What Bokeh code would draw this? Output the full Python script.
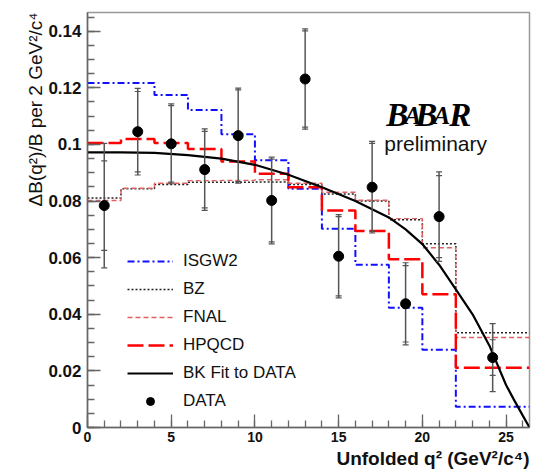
import math
from bokeh.plotting import figure
from bokeh.models import (FixedTicker, CustomJSTickFormatter, Legend, LegendItem,
                          Label, Title, ColumnDataSource)
from bokeh.embed import file_html
from bokeh.resources import INLINE

# ---------------- data ----------------
bin_edges = [0, 2, 4, 6, 8, 10, 12, 14, 16, 18, 20, 22, 26.4]
isgw2 = [0.1217, 0.1217, 0.1175, 0.1122, 0.1036, 0.0944, 0.0843, 0.0702, 0.0575, 0.0423, 0.0275, 0.0073]
bz    = [0.0811, 0.0843, 0.0858, 0.0866, 0.0866, 0.0867, 0.0858, 0.0825, 0.0800, 0.0734, 0.0649, 0.0335]
fnal  = [0.0802, 0.0845, 0.0863, 0.0872, 0.0873, 0.0875, 0.0863, 0.0831, 0.0803, 0.0738, 0.0635, 0.0318]
hpqcd = [0.1005, 0.1019, 0.1005, 0.0984, 0.0940, 0.0896, 0.0849, 0.0767, 0.0694, 0.0594, 0.0471, 0.0211]

fit_q2  = [0, 2, 4, 6, 8, 10, 12, 14, 16, 18, 19, 20, 21, 22, 23, 24, 25, 25.5, 26, 26.4]
fit_val = [0.0972, 0.0972, 0.0970, 0.0962, 0.0950, 0.0928, 0.0893, 0.0849, 0.0800, 0.0742,
           0.0700, 0.0648, 0.0575, 0.0488, 0.0400, 0.0290, 0.0150, 0.0095, 0.0042, 0.0]

data_q2   = [1, 3, 5, 7, 9, 11, 13, 15, 17, 19, 21, 24.2]
data_val  = [0.0784, 0.1045, 0.1002, 0.0911, 0.1031, 0.0802, 0.1231, 0.0605, 0.0849, 0.0437, 0.0745, 0.0247]
err_total = [0.0220, 0.0153, 0.0141, 0.0144, 0.0168, 0.0153, 0.0177, 0.0147, 0.0162, 0.0145, 0.0158, 0.0120]
err_stat  = [0.0158, 0.0142, 0.0135, 0.0135, 0.0162, 0.0146, 0.0170, 0.0140, 0.0155, 0.0135, 0.0145, 0.0063]

y_ticks = [0, 0.02, 0.04, 0.06, 0.08, 0.10, 0.12, 0.14]
x_ticks = [0, 5, 10, 15, 20, 25]

labels = ["ISGW2", "BZ", "FNAL", "HPQCD", "BK Fit to DATA", "DATA"]
x_title = "Unfolded q\u00b2 (GeV\u00b2/c\u2074)"
y_title = "\u0394B(q\u00b2)/B per 2 GeV\u00b2/c\u2074"

# ---------------- figure ----------------
p = figure(width=533, height=474, x_range=(0, 26.4), y_range=(0, 0.1466),
           output_backend="svg", toolbar_location=None,
           min_border_left=87, min_border_right=4, min_border_top=12, min_border_bottom=47)
p.grid.visible = False
p.outline_line_color = "#999999"
p.outline_line_width = 1.5
p.background_fill_color = "white"

for ax in (p.xaxis[0], p.yaxis[0]):
    ax.axis_line_color = "#666666"
    ax.axis_line_width = 1.5
    ax.major_tick_line_color = "#666666"
    ax.minor_tick_line_color = "#666666"
    ax.major_tick_line_width = 1.3
    ax.minor_tick_line_width = 1.3
    ax.major_tick_in = 13
    ax.major_tick_out = 0
    ax.minor_tick_in = 7
    ax.minor_tick_out = 0
    ax.major_label_text_font = "Liberation Sans"
    ax.major_label_text_font_style = "bold"
    ax.major_label_text_color = "#111111"

p.yaxis.ticker = FixedTicker(ticks=y_ticks,
                             minor_ticks=[i * 0.005 for i in range(30)])
p.xaxis.ticker = FixedTicker(ticks=x_ticks, minor_ticks=list(range(27)))
p.yaxis.formatter = CustomJSTickFormatter(code="return Number(tick.toFixed(3)).toString();")
p.yaxis.major_label_text_font_size = "17px"
p.xaxis.major_label_text_font_size = "14px"
p.yaxis.major_label_standoff = 6
p.xaxis.major_label_standoff = 4

def step_src(vals):
    return ColumnDataSource(dict(x=bin_edges, y=list(vals) + [vals[-1]]))

r_isgw = p.step(x="x", y="y", source=step_src(isgw2), mode="after",
                line_color="#1010ff", line_width=2, line_dash="7 3 2 3")
r_bz = p.step(x="x", y="y", source=step_src(bz), mode="after",
              line_color="#222222", line_width=1.5, line_dash="2 2")
r_fnal = p.step(x="x", y="y", source=step_src(fnal), mode="after",
                line_color="#e06060", line_width=1.4, line_dash="5 3")
r_hpqcd = p.step(x="x", y="y", source=step_src(hpqcd), mode="after",
                 line_color="#ff0000", line_width=2.5, line_dash="16 5")
r_fit = p.line(fit_q2, fit_val, line_color="black", line_width=2.2)

# error bars
hi_t = [v + e for v, e in zip(data_val, err_total)]
lo_t = [v - e for v, e in zip(data_val, err_total)]
hi_s = [v + e for v, e in zip(data_val, err_stat)]
lo_s = [v - e for v, e in zip(data_val, err_stat)]
p.segment(x0=data_q2, y0=lo_t, x1=data_q2, y1=hi_t, line_color="#555555", line_width=1.5)
p.scatter(data_q2 + data_q2, hi_t + lo_t, marker="dash", size=6,
          line_color="#555555", line_width=1.2)
p.scatter(data_q2 + data_q2, hi_s + lo_s, marker="dash", size=6,
          line_color="#555555", line_width=1.2)
r_data = p.scatter(data_q2, data_val, size=10, color="black")

legend = Legend(items=[LegendItem(label=labels[0], renderers=[r_isgw]),
                       LegendItem(label=labels[1], renderers=[r_bz]),
                       LegendItem(label=labels[2], renderers=[r_fnal]),
                       LegendItem(label=labels[3], renderers=[r_hpqcd]),
                       LegendItem(label=labels[4], renderers=[r_fit]),
                       LegendItem(label=labels[5], renderers=[r_data])],
                location=(40, 16), orientation="vertical",
                glyph_width=46, glyph_height=20, label_height=20, spacing=8,
                label_standoff=10, padding=0, margin=0,
                border_line_color=None, background_fill_alpha=0,
                label_text_font="Liberation Sans", label_text_font_size="17px",
                label_text_color="#111111")
p.add_layout(legend, "center")

# axis titles
p.add_layout(Title(text=y_title, align="right", text_font="Liberation Sans",
                   text_font_style="normal", text_font_size="19px",
                   text_color="#111111", standoff=0, offset=0), "left")
p.add_layout(Title(text=x_title, align="right", text_font="Liberation Sans",
                   text_font_style="bold", text_font_size="19px",
                   text_color="#111111", standoff=2, offset=0), "below")

# BaBar logo
logo = [("B", 17.85, 33), ("A", 18.93, 25), ("B", 19.58, 33), ("A", 20.66, 25), ("R", 21.61, 33)]
for ch, lx, fs in logo:
    p.add_layout(Label(x=lx, y=0.1103, text=ch, text_font="Liberation Serif",
                       text_font_style="bold italic", text_font_size=f"{fs}px",
                       text_align="left", text_baseline="alphabetic", text_color="black"))
p.add_layout(Label(x=17.73, y=0.1003, text="preliminary", text_font="Liberation Sans",
                   text_font_size="21px", text_align="left", text_baseline="alphabetic",
                   text_color="#111111"))

open("out.html", "w").write(file_html(p, INLINE))
